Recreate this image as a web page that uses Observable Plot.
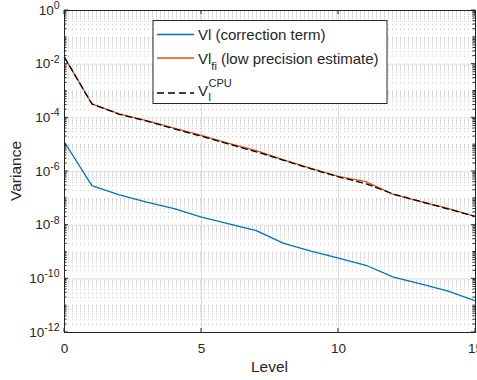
<!DOCTYPE html>
<html><head><meta charset="utf-8">
<script src="https://cdn.jsdelivr.net/npm/d3@7"></script>
<script src="https://cdn.jsdelivr.net/npm/@observablehq/plot@0.6"></script>
<style>
body{margin:0;background:#fff;}
#chart{position:relative;width:477px;height:380px;overflow:hidden;}
svg{font-family:"Liberation Sans",Arial,Helvetica,sans-serif;}
</style>
</head><body><div id="chart"></div>
<script>
const levels = [0,1,2,3,4,5,6,7,8,9,10,11,12,13,14,15];
const correctionVar = [1.23e-5, 3.0e-7, 1.35e-7, 7.2e-8, 4.1e-8, 2.0e-8, 1.12e-8, 6.3e-9, 2.1e-9, 1.07e-9, 5.9e-10, 3.2e-10, 1.15e-10, 6.5e-11, 3.5e-11, 1.5e-11];
const lowPrecVar = [1.8e-2, 3.3e-4, 1.4e-4, 7.9e-5, 4.1e-5, 2.2e-5, 1.12e-5, 6.0e-6, 2.7e-6, 1.3e-6, 6.6e-7, 4.2e-7, 1.4e-7, 7.6e-8, 4.2e-8, 2.1e-8];
const cpuVar = [1.8e-2, 3.3e-4, 1.35e-4, 7.6e-5, 3.9e-5, 2.05e-5, 1.05e-5, 5.4e-6, 2.6e-6, 1.26e-6, 6.3e-7, 3.5e-7, 1.45e-7, 7.6e-8, 4.0e-8, 2.1e-8];
const xTicks = [0,5,10,15];
const yMajorExp = [-12,-10,-8,-6,-4,-2,0];
const yMajorTicks = yMajorExp.map(e => Math.pow(10, e));
const yMinorTicks = [];
for (let e = -12; e < 0; e++) for (let k = 1; k <= 9; k++) {
  if (k === 1 && e % 2 === 0) continue;
  yMinorTicks.push(k * Math.pow(10, e));
}
const colors = {corr: "#0072BD", low: "#D95319", cpu: "#000000"};
const axisColor = "#262626";

const plot = Plot.plot({
  width: 477, height: 380,
  marginLeft: 64, marginRight: 2, marginTop: 10, marginBottom: 48,
  style: {fontFamily: '"Liberation Sans", Arial, Helvetica, sans-serif', background: "#fff"},
  x: {domain: [0, 15]},
  y: {type: "log", domain: [1e-12, 1]},
  marks: [
    Plot.ruleY(yMinorTicks, {stroke: "#c6c6c6", strokeDasharray: "1,3", strokeWidth: 1}),
    Plot.ruleY(yMajorTicks, {stroke: "#dedede", strokeWidth: 1}),
    Plot.ruleX(xTicks, {stroke: "#dedede", strokeWidth: 1}),
    Plot.lineY(correctionVar, {x: levels, stroke: colors.corr, strokeWidth: 1.3}),
    Plot.lineY(lowPrecVar, {x: levels, stroke: colors.low, strokeWidth: 1.3}),
    Plot.lineY(cpuVar, {x: levels, stroke: colors.cpu, strokeWidth: 1.3, strokeDasharray: "6,4"}),
    Plot.frame({stroke: axisColor, strokeWidth: 1}),
    Plot.axisY(yMajorTicks, {anchor: "left", tickSize: 0, tickPadding: 5, fontSize: 13.5, fill: axisColor,
      tickFormat: d => "10^" + Math.round(Math.log10(d)), label: null}),
    Plot.axisX(xTicks, {anchor: "bottom", tickSize: 0, tickPadding: 11, fontSize: 13.5, fill: axisColor,
      tickFormat: d => String(d), label: null})
  ]
});

const svg = d3.select(plot);
const xs = plot.scale("x"), ys = plot.scale("y");
const L = 64, R = 475, T = 10, B = 332;
const ticksG = svg.append("g").attr("stroke", axisColor).attr("stroke-width", 1);
yMajorTicks.forEach(v => {
  const y = ys.apply(v);
  ticksG.append("line").attr("x1", L).attr("x2", L + 4).attr("y1", y).attr("y2", y);
  ticksG.append("line").attr("x1", R - 4).attr("x2", R).attr("y1", y).attr("y2", y);
});
yMinorTicks.forEach(v => {
  const y = ys.apply(v);
  ticksG.append("line").attr("x1", L).attr("x2", L + 2.5).attr("y1", y).attr("y2", y);
  ticksG.append("line").attr("x1", R - 2.5).attr("x2", R).attr("y1", y).attr("y2", y);
});
xTicks.forEach(v => {
  const x = xs.apply(v);
  ticksG.append("line").attr("x1", x).attr("x2", x).attr("y1", B).attr("y2", B - 4);
  ticksG.append("line").attr("x1", x).attr("x2", x).attr("y1", T).attr("y2", T + 4);
});

// superscripts on y tick labels
svg.selectAll('g[aria-label="y-axis tick label"] text').each(function() {
  const t = this.textContent;
  const e = t.split("^")[1];
  const s = d3.select(this);
  s.text(null);
  s.append("tspan").text("10");
  s.append("tspan").attr("dy", "-0.55em").attr("font-size", 10.5).text(e);
});

// axis labels
svg.append("text").attr("x", 269.5).attr("y", 372).attr("text-anchor", "middle")
  .attr("font-size", 15.5).attr("fill", axisColor).text("Level");
svg.append("text").attr("transform", "translate(21,171) rotate(-90)").attr("text-anchor", "middle")
  .attr("font-size", 15.5).attr("fill", axisColor).text("Variance");

// legend
const lg = svg.append("g").attr("font-size", 15).attr("fill", axisColor).attr("text-anchor", "start");
lg.append("rect").attr("x", 153).attr("y", 20.5).attr("width", 234).attr("height", 83)
  .attr("fill", "#fff").attr("stroke", axisColor).attr("stroke-width", 1);
const tx = 198;
lg.append("line").attr("x1", 157).attr("x2", 194).attr("y1", 34.5).attr("y2", 34.5)
  .attr("stroke", colors.corr).attr("stroke-width", 1.3);
lg.append("text").attr("x", tx).attr("y", 40).text("Vl (correction term)");
lg.append("line").attr("x1", 157).attr("x2", 194).attr("y1", 58).attr("y2", 58)
  .attr("stroke", colors.low).attr("stroke-width", 1.3);
const t2 = lg.append("text").attr("x", tx).attr("y", 63.5);
t2.append("tspan").text("Vl");
t2.append("tspan").attr("dy", 6).attr("font-size", 11).text("fi");
t2.append("tspan").attr("dy", -6).text(" (low precision estimate)");
lg.append("line").attr("x1", 157).attr("x2", 194).attr("y1", 93).attr("y2", 93)
  .attr("stroke", colors.cpu).attr("stroke-width", 1.3).attr("stroke-dasharray", "7,4");
const v3 = lg.append("text").attr("x", tx).attr("y", 95.5).text("V");
document.getElementById("chart").appendChild(plot);
const vw = v3.node().getComputedTextLength();
lg.append("text").attr("x", tx + vw + 0.5).attr("y", 87).attr("font-size", 11).text("CPU");
lg.append("text").attr("x", tx + vw + 0.5).attr("y", 100.5).attr("font-size", 11).text("l");
</script>
</body></html>
